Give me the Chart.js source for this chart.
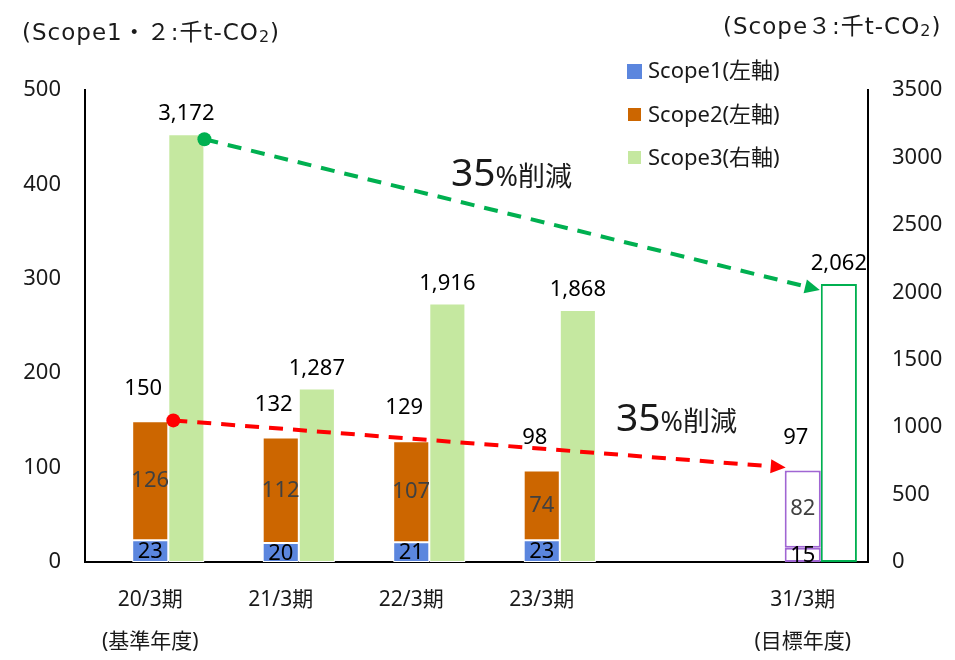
<!DOCTYPE html>
<html>
<head>
<meta charset="utf-8">
<script src="https://cdn.jsdelivr.net/npm/chart.js@4.4.0/dist/chart.umd.min.js"></script>
<style>
  html, body { margin: 0; background: #fff; }
</style>
</head>
<body>
<canvas id="chart" width="955" height="660"></canvas>
<script>
const categories = [['20/3期', '(基準年度)'], '21/3期', '22/3期', '23/3期', '', ['31/3期', '(目標年度)']];
const scope1 = [23, 20, 21, 23, null, 15];
const scope2 = [126, 112, 107, 74, null, 82];
const scope12Total = [150, 132, 129, 98, null, 97];
const scope3 = [3172, 1287, 1916, 1868, null, 2062];
const targetIndex = 5;

const FONT = "'Noto Sans', 'Noto Sans CJK JP', sans-serif";
const WIDE_FONT = "'DejaVu Sans', 'Noto Sans CJK JP', sans-serif";
const BLUE = '#5B86DE', ORANGE = '#CC6600', LIGHTGREEN = '#C5E8A0';
const PURPLE = '#A066D3', GREEN = '#00B050';

function perIndex(normal, target) {
  return categories.map((c, i) => i === targetIndex ? target : normal);
}

// arrow with round dot at the start
function arrow(ctx, x1, y1, x2, y2, color) {
  ctx.save();
  ctx.strokeStyle = color;
  ctx.fillStyle = color;
  ctx.lineWidth = 4;
  const ang = Math.atan2(y2 - y1, x2 - x1);
  const head = 15;
  const ex = x2 - head * Math.cos(ang), ey = y2 - head * Math.sin(ang);
  ctx.setLineDash([14, 10]);
  ctx.beginPath();
  ctx.moveTo(x1, y1);
  ctx.lineTo(ex, ey);
  ctx.stroke();
  ctx.setLineDash([]);
  ctx.beginPath();
  ctx.moveTo(x2, y2);
  ctx.lineTo(ex + 7 * Math.sin(ang), ey - 7 * Math.cos(ang));
  ctx.lineTo(ex - 7 * Math.sin(ang), ey + 7 * Math.cos(ang));
  ctx.closePath();
  ctx.fill();
  ctx.beginPath();
  ctx.arc(x1, y1, 7, 0, Math.PI * 2);
  ctx.fill();
  ctx.restore();
}

function subText(ctx, x, y, main, sub, tail, size) {
  ctx.letterSpacing = '1px';
  ctx.font = size + 'px ' + WIDE_FONT;
  ctx.fillText(main, x, y);
  x += ctx.measureText(main).width;
  ctx.font = Math.round(size * 0.7) + 'px ' + WIDE_FONT;
  ctx.fillText(sub, x, y + 4);
  x += ctx.measureText(sub).width;
  ctx.font = size + 'px ' + WIDE_FONT;
  ctx.fillText(tail, x, y);
  ctx.letterSpacing = '0px';
}

function reduction(ctx, x, y) {
  ctx.fillStyle = '#1a1a1a';
  ctx.textAlign = 'left';
  ctx.textBaseline = 'alphabetic';
  ctx.font = '39px ' + FONT;
  ctx.fillText('35', x, y);
  const w = ctx.measureText('35').width;
  ctx.font = '27px ' + FONT;
  ctx.fillText('%削減', x + w, y);
}

const extras = {
  id: 'extras',
  afterDatasetsDraw(chart) {
    const ctx = chart.ctx;
    const y = chart.scales.y, y1 = chart.scales.y1;
    const m1 = chart.getDatasetMeta(1), m2 = chart.getDatasetMeta(2), m3 = chart.getDatasetMeta(3);

    // value labels
    ctx.save();
    ctx.font = '22px ' + FONT;
    ctx.textAlign = 'center';
    ctx.textBaseline = 'middle';
    categories.forEach((c, i) => {
      if (scope3[i] == null) return;
      const b1 = m1.data[i], b2 = m2.data[i], b3 = m3.data[i];
      ctx.fillStyle = '#000';
      ctx.fillText(scope3[i].toLocaleString('en-US'), b3.x, b3.y - 20);
      ctx.fillText(String(scope12Total[i]), b2.x - 7, b2.y - 33);
      ctx.fillText(String(scope1[i]), b1.x, (b1.y + b1.base) / 2 + 1);
      ctx.fillStyle = '#404040';
      ctx.fillText(String(scope2[i]), b2.x, (b2.y + b2.base) / 2);
    });
    ctx.restore();

    // reduction arrows
    const s3first = m3.data[0], s3last = m3.data[targetIndex], s2last = m2.data[targetIndex];
    arrow(ctx, s3first.x + s3first.width / 2, y1.getPixelForValue(scope3[0]) + 5,
      s3last.x - s3last.width / 2 - 1, y1.getPixelForValue(scope3[targetIndex]) + 6, GREEN);
    arrow(ctx, s3first.x - s3first.width / 2 + 5, y.getPixelForValue(scope12Total[0]),
      s2last.x - s2last.width / 2 + 1, y.getPixelForValue(scope12Total[targetIndex]) - 3, '#FF0000');

    ctx.save();
    reduction(ctx, 451, 186);
    reduction(ctx, 616, 431);

    // axis unit titles
    ctx.fillStyle = '#1a1a1a';
    ctx.textBaseline = 'middle';
    ctx.textAlign = 'left';
    subText(ctx, 22, 34, '(Scope1・２:千t-CO', '2', ')', 23);
    subText(ctx, 723, 28, '(Scope３:千t-CO', '2', ')', 23);

    // legend
    const legend = [[1, BLUE, 64, 15], [2, ORANGE, 108, 13], [3, LIGHTGREEN, 151, 13]];
    ctx.font = '22px ' + FONT;
    legend.forEach(([di, col, top, sz]) => {
      ctx.fillStyle = col;
      ctx.fillRect(627 + (15 - sz) / 2, top, sz, sz);
      ctx.fillStyle = '#1a1a1a';
      ctx.fillText(chart.data.datasets[di].label, 648, top + 8);
    });
    ctx.restore();
  }
};

new Chart(document.getElementById('chart'), {
  type: 'bar',
  data: {
    labels: categories,
    datasets: [
      { label: '', data: categories.map(() => null), stack: 'pad', yAxisID: 'y' },
      {
        label: 'Scope1(左軸)', data: scope1, stack: 'a', yAxisID: 'y',
        backgroundColor: perIndex(BLUE, '#fff'), borderColor: perIndex('#fff', PURPLE),
        borderWidth: perIndex(1, 2), borderSkipped: false
      },
      {
        label: 'Scope2(左軸)', data: scope2, stack: 'a', yAxisID: 'y',
        backgroundColor: perIndex(ORANGE, '#fff'), borderColor: perIndex('#fff', PURPLE),
        borderWidth: perIndex(1, 2), borderSkipped: false
      },
      {
        label: 'Scope3(右軸)', data: scope3, stack: 'b', yAxisID: 'y1',
        backgroundColor: perIndex(LIGHTGREEN, '#fff'), borderColor: perIndex('#fff', GREEN),
        borderWidth: perIndex(1, 2), borderSkipped: false
      }
    ]
  },
  options: {
    responsive: false,
    animation: false,
    categoryPercentage: 0.83,
    barPercentage: 1.0,
    layout: { padding: { top: 90, left: 0, right: 0, bottom: 0 } },
    plugins: { legend: { display: false }, tooltip: { enabled: false } },
    scales: {
      x: {
        grid: { display: false, drawTicks: false },
        border: { display: true, color: '#000', width: 2 },
        ticks: { color: '#1a1a1a', padding: 17, maxRotation: 0, autoSkip: false,
          font: { family: FONT, size: 21, lineHeight: 2.0 } },
        afterFit(s) { s.height = 98; }
      },
      y: {
        position: 'left', stacked: true, min: 0, max: 500,
        grid: { display: false, drawTicks: false },
        border: { display: true, color: '#000', width: 2 },
        ticks: { stepSize: 100, color: '#1a1a1a', padding: 24, font: { family: FONT, size: 22 } },
        afterFit(s) { s.width = 85; }
      },
      y1: {
        position: 'right', stacked: true, min: 0, max: 3500,
        grid: { display: false, drawTicks: false },
        border: { display: true, color: '#000', width: 2 },
        ticks: { stepSize: 500, color: '#1a1a1a', padding: 24, font: { family: FONT, size: 22 },
          callback: (v) => String(v) },
        afterFit(s) { s.width = 87; }
      }
    }
  },
  plugins: [extras]
});
</script>
</body>
</html>
